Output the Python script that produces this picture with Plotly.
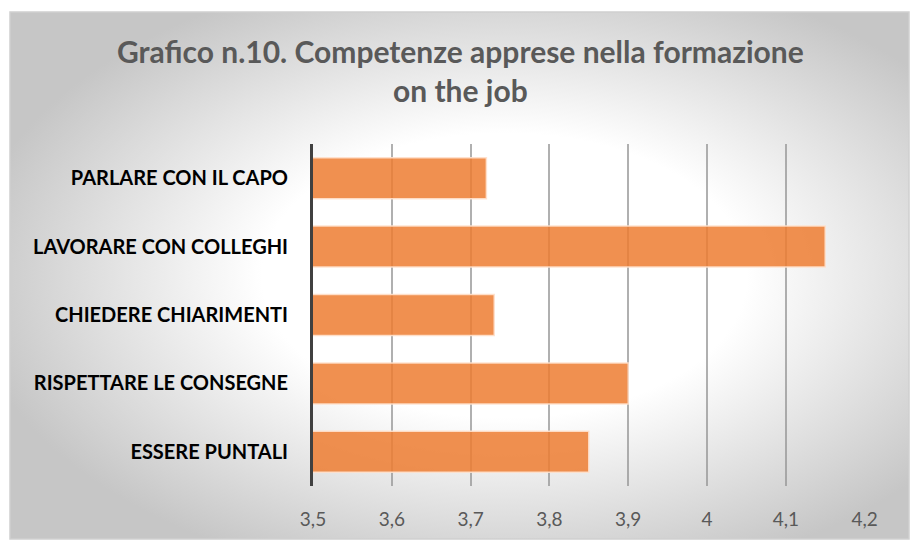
import base64
import plotly.graph_objects as go

categories = ["PARLARE CON IL CAPO", "LAVORARE CON COLLEGHI", "CHIEDERE CHIARIMENTI",
              "RISPETTARE LE CONSEGNE", "ESSERE PUNTALI"]
values = [3.72, 4.15, 3.73, 3.90, 3.85]
tick_vals = [3.5, 3.6, 3.7, 3.8, 3.9, 4.0, 4.1, 4.2]
tick_text = ["3,5", "3,6", "3,7", "3,8", "3,9", "4", "4,1", "4,2"]
title_text = "Grafico n.10. Competenze apprese nella formazione<br>on the job"

W, H = 911, 541
L, R, T, B = 313, 865, 144, 486
pw, ph = R - L, B - T

def px_to_paper_x(px):
    return (px - L) / pw

def px_to_paper_y(py):
    return (B - py) / ph

svg = """<svg xmlns='http://www.w3.org/2000/svg' width='900' height='530' viewBox='0 0 900 530' preserveAspectRatio='none'>
<defs><radialGradient id='g' cx='0.55' cy='0.5' r='0.6' fx='0.55' fy='0.5'>
<stop offset='0' stop-color='#ffffff'/><stop offset='0.45' stop-color='#ffffff'/>
<stop offset='1' stop-color='#c6c6c6'/></radialGradient></defs>
<rect x='0' y='0' width='900' height='530' fill='url(#g)'/></svg>"""
src = "data:image/svg+xml;base64," + base64.b64encode(svg.encode()).decode()

bx0, by0, bx1, by1 = 10, 12, 909, 539

fig = go.Figure(go.Bar(
    x=values, y=categories, orientation="h",
    marker=dict(color="rgba(237,125,49,0.85)",
                line=dict(color="rgba(255,225,205,0.9)", width=1.5)),
    width=0.6,
))

fig.update_layout(
    width=W, height=H,
    margin=dict(l=L, r=W - R, t=T, b=H - B),
    paper_bgcolor="white", plot_bgcolor="rgba(0,0,0,0)",
    showlegend=False,
    annotations=[dict(text=title_text, xref="paper", yref="paper",
                      x=px_to_paper_x(460), y=px_to_paper_y(70),
                      xanchor="center", yanchor="middle", showarrow=False,
                      font=dict(family="Lato", size=30, color="#595959", weight="bold"))],
    xaxis=dict(range=[3.5, 4.2005], tickvals=tick_vals, ticktext=tick_text,
               showgrid=True, gridcolor="rgba(150,150,150,0.75)", gridwidth=1.5,
               zeroline=False, showline=False, ticks="",
               tickfont=dict(family="Lato", size=19, color="#595959"),
               ticklabelstandoff=20),
    yaxis=dict(autorange="reversed", showgrid=False, zeroline=False,
               showline=True, linecolor="#404040", linewidth=3, ticks="",
               tickfont=dict(family="Lato", size=20, color="black", weight="bold"),
               ticklabelstandoff=18),
    images=[dict(source=src, xref="paper", yref="paper",
                 x=px_to_paper_x(bx0), y=px_to_paper_y(by0),
                 sizex=(bx1 - bx0) / pw, sizey=(by1 - by0) / ph,
                 xanchor="left", yanchor="top", sizing="stretch", layer="below")],
    shapes=[dict(type="rect", xref="paper", yref="paper",
                 x0=px_to_paper_x(bx0), x1=px_to_paper_x(bx1),
                 y0=px_to_paper_y(by1), y1=px_to_paper_y(by0),
                 line=dict(color="#d0d0d0", width=1.5), layer="below")],
)

fig.write_html("out.html")
